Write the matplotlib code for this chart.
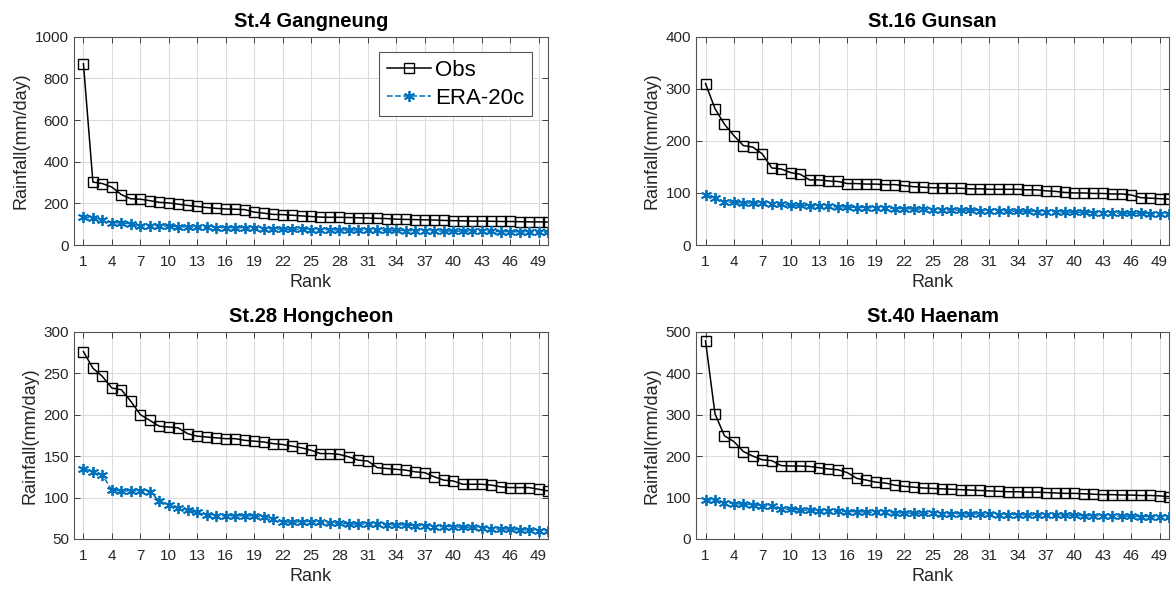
import matplotlib

matplotlib.use("Agg")
import matplotlib.pyplot as plt
import numpy as np

plt.rcParams["font.family"] = ["Liberation Sans", "DejaVu Sans"]

rank = np.arange(1, 51)

titles = ["St.4 Gangneung", "St.16 Gunsan", "St.28 Hongcheon", "St.40 Haenam"]

gangneung_obs = [870, 302, 295, 278, 242, 222, 220, 213, 205, 202,
                 196, 190, 185, 180, 176, 173, 172, 170, 158, 153,
                 147, 146, 143, 140, 137, 134, 133, 133, 132, 131,
                 130, 128, 127, 124, 123, 122, 121, 120, 118, 117,
                 116, 115, 115, 114, 113, 113, 112, 111, 111, 110]
gangneung_era = [135, 130, 118, 108, 106, 102, 93, 92, 92, 91,
                 88, 87, 85, 85, 84, 84, 83, 83, 80, 79,
                 78, 76, 75, 75, 74, 74, 73, 73, 72, 72,
                 71, 71, 70, 70, 69, 69, 68, 68, 67, 67,
                 66, 66, 65, 65, 64, 64, 63, 63, 62, 62]

gunsan_obs = [310, 262, 232, 210, 191, 188, 175, 148, 146, 139,
              136, 125, 125, 123, 122, 118, 118, 117, 117, 116,
              116, 114, 112, 111, 110, 110, 109, 109, 108, 108,
              107, 107, 107, 107, 106, 106, 104, 103, 101, 100,
              100, 99, 99, 98, 98, 96, 91, 90, 89, 88]
gunsan_era = [96, 91, 83, 82, 81, 80, 80, 79, 78, 76,
              76, 75, 75, 74, 73, 73, 72, 72, 71, 71,
              70, 70, 69, 69, 68, 68, 67, 67, 67, 66,
              66, 66, 65, 65, 65, 64, 64, 64, 63, 63,
              63, 62, 62, 62, 61, 61, 61, 60, 60, 60]

hongcheon_obs = [276, 256, 246, 232, 230, 216, 200, 193, 186, 185,
                 184, 177, 174, 173, 172, 171, 171, 169, 168, 167,
                 165, 164, 162, 160, 157, 153, 153, 152, 149, 145,
                 144, 136, 135, 134, 133, 131, 130, 125, 121, 120,
                 116, 116, 116, 115, 113, 112, 112, 112, 110, 108]
hongcheon_era = [135, 131, 127, 109, 108, 108, 108, 107, 96, 91,
                 87, 85, 82, 79, 78, 78, 78, 78, 78, 76,
                 74, 71, 70, 71, 71, 70, 69, 69, 68, 68,
                 68, 68, 67, 67, 67, 66, 66, 65, 65, 65,
                 64, 64, 63, 62, 62, 62, 61, 61, 60, 60]

haenam_obs = [478, 302, 249, 235, 211, 200, 191, 189, 177, 176,
              176, 175, 172, 169, 167, 160, 146, 142, 137, 135,
              130, 127, 125, 123, 122, 121, 120, 119, 118, 117,
              116, 115, 114, 114, 113, 113, 112, 111, 110, 110,
              109, 108, 107, 107, 106, 106, 105, 105, 104, 102]
haenam_era = [94, 94, 88, 85, 84, 83, 80, 80, 72, 72,
              70, 69, 68, 67, 67, 66, 66, 65, 64, 64,
              63, 63, 62, 62, 62, 61, 61, 61, 60, 60,
              60, 59, 59, 59, 58, 58, 58, 57, 57, 57,
              56, 56, 56, 55, 55, 55, 54, 54, 53, 53]

obs_all = [gangneung_obs, gunsan_obs, hongcheon_obs, haenam_obs]
era_all = [gangneung_era, gunsan_era, hongcheon_era, haenam_era]
ylims = [(0, 1000), (0, 400), (50, 300), (0, 500)]
yticks = [np.arange(0, 1001, 200), np.arange(0, 401, 100),
          np.arange(50, 301, 50), np.arange(0, 501, 100)]

positions = [[0.0631, 0.5875, 0.4045, 0.3507],
             [0.5939, 0.5875, 0.4036, 0.3507],
             [0.0631, 0.0926, 0.4045, 0.3490],
             [0.5939, 0.0926, 0.4036, 0.3490]]

txt = "#262626"
blue = "#0072BD"
asterisk = (6, 2, 0)  # MATLAB-style '*'

fig = plt.figure(figsize=(11.72, 5.94), dpi=100)
for i in range(4):
    ax = fig.add_axes(positions[i])
    ax.plot(rank, obs_all[i], "-s", color="black", lw=1.1, ms=6.5,
            mfc="none", mew=1.0, label="Obs")
    ax.plot(rank, era_all[i], ls="--", marker=asterisk, color=blue, lw=1.1,
            ms=8, mew=1.3, label="ERA-20c")
    ax.set_xlim(0, 50)
    ax.set_ylim(*ylims[i])
    ax.set_xticks(np.arange(1, 50, 3))
    ax.set_yticks(yticks[i])
    ax.grid(True, color="#dcdcdc", lw=0.8)
    ax.set_axisbelow(True)
    ax.tick_params(direction="in", top=True, right=True, length=4,
                   labelsize=11, colors=txt, width=0.6)
    ax.tick_params(axis="x", pad=7)
    for s in ax.spines.values():
        s.set_color("#555555")
        s.set_linewidth(0.8)
    ax.set_title(titles[i], fontsize=14.5, fontweight="bold", pad=7)
    ax.set_xlabel("Rank", fontsize=13, color=txt, labelpad=4)
    ax.set_ylabel("Rainfall(mm/day)", fontsize=13, color=txt, labelpad=4)
    if i == 0:
        leg = ax.legend(loc="upper right", fontsize=16, handlelength=2.0,
                        fancybox=False, framealpha=1, borderpad=0.35,
                        labelspacing=0.3, handletextpad=0.2,
                        borderaxespad=0.7)
        leg.get_frame().set_edgecolor("#555555")
        leg.get_frame().set_linewidth(0.8)

fig.savefig("out.png", dpi=100)
